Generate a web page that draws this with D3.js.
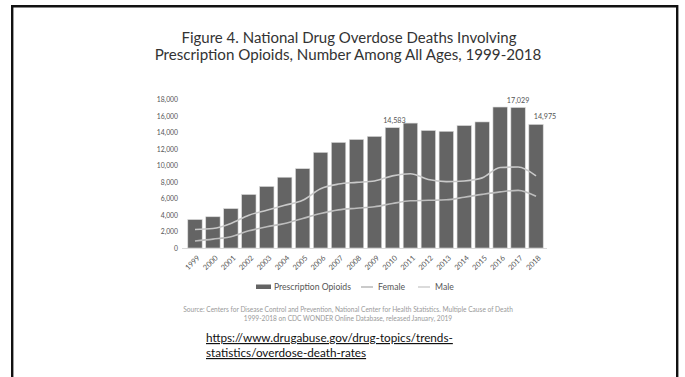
<!DOCTYPE html>
<html>
<head>
<meta charset="utf-8">
<script src="https://cdn.jsdelivr.net/npm/d3@7"></script>
<style>
  html, body { margin: 0; padding: 0; background: #fff; }
  svg { display: block; }
</style>
</head>
<body>
<svg id="chart" width="685" height="377"></svg>
<script>
// Prescription opioid overdose deaths, 1999-2018
const years = ["1999","2000","2001","2002","2003","2004","2005","2006","2007","2008",
               "2009","2010","2011","2012","2013","2014","2015","2016","2017","2018"];
const totalDeaths = [3442, 3785, 4770, 6483, 7456, 8577, 9612, 11589, 12796, 13149,
                     13523, 14583, 15140, 14240, 14145, 14838, 15281, 17087, 17029, 14975];
const femaleDeaths = [850, 1080, 1360, 2080, 2570, 2970, 3580, 4180, 4620, 4820,
                      5000, 5390, 5720, 5780, 5840, 6150, 6500, 6800, 6990, 6270];
const maleDeaths = [2250, 2370, 2980, 3980, 4580, 5180, 5780, 7190, 7750, 7950,
                    8130, 8740, 9000, 8300, 8040, 8130, 8500, 9760, 9820, 8740];
const yTicks = [0, 2000, 4000, 6000, 8000, 10000, 12000, 14000, 16000, 18000];
const labelledYears = ["2010", "2017", "2018"];

const titleLines = ["Figure 4. National Drug Overdose Deaths Involving",
                    "Prescription Opioids, Number Among All Ages, 1999-2018"];
const sourceLines = ["Source: Centers for Disease Control and Prevention, National Center for Health Statistics. Multiple Cause of Death",
                     "1999-2018 on CDC WONDER Online Database, released January, 2019"];
const linkLines = ["https://www.drugabuse.gov/drug-topics/trends-",
                   "statistics/overdose-death-rates"];

const svg = d3.select("#chart");
const font = "Lato, 'Open Sans', sans-serif";

// slide frame
svg.append("path")
  .attr("d", "M12.2,380 V6.3 H677.2 V380")
  .attr("fill", "none").attr("stroke", "#111").attr("stroke-width", 2.4);

// fit a text element to a given width by adjusting font size
function fitWidth(sel, target) {
  const fs = parseFloat(sel.attr("font-size"));
  const w = sel.node().getComputedTextLength();
  if (w > 0) sel.attr("font-size", (fs * target / w).toFixed(2));
  return parseFloat(sel.attr("font-size"));
}

// title
const t1 = svg.append("text").attr("x", 349).attr("y", 43)
  .attr("text-anchor", "middle").attr("font-family", font).attr("font-size", 15)
  .attr("fill", "#333").text(titleLines[0]);
fitWidth(t1, 335);
const t2 = svg.append("text").attr("x", 348).attr("y", 60)
  .attr("text-anchor", "middle").attr("font-family", font).attr("font-size", 15)
  .attr("fill", "#333").text(titleLines[1]);
fitWidth(t2, 387);

// scales
const x = d3.scaleBand().domain(years).range([186, 545]).paddingInner(0.2).paddingOuter(0.1);
const y = d3.scaleLinear().domain([0, 18000]).range([248, 99.5]);

// y axis labels
const yAxis = svg.append("g").attr("transform", "translate(178,0)")
  .call(d3.axisLeft(y).tickValues(yTicks).tickSize(0).tickPadding(0)
    .tickFormat(d3.format(",")));
yAxis.select(".domain").remove();
yAxis.selectAll("text").attr("font-family", font).attr("font-size", 6.8).attr("fill", "#555");

// bars
svg.append("g").selectAll("rect").data(years).join("rect")
  .attr("x", d => x(d))
  .attr("width", x.bandwidth())
  .attr("y", (d, i) => y(totalDeaths[i]))
  .attr("height", (d, i) => y(0) - y(totalDeaths[i]))
  .attr("fill", "#646464")
  .attr("stroke", "#d8d8d8").attr("stroke-width", 0.6);

// baseline
svg.append("line").attr("x1", 182).attr("x2", 547)
  .attr("y1", y(0) + 0.5).attr("y2", y(0) + 0.5)
  .attr("stroke", "#d9d9d9").attr("stroke-width", 1);

// x axis labels, rotated
const xAxis = svg.append("g").attr("transform", `translate(0,${y(0) + 2})`)
  .call(d3.axisBottom(x).tickSize(0).tickPadding(0));
xAxis.select(".domain").remove();
xAxis.selectAll("text")
  .attr("font-family", font).attr("font-size", 7.4).attr("fill", "#555")
  .attr("text-anchor", "end").attr("dy", "0.35em").attr("dx", "-0.1em")
  .attr("transform", "translate(4,6) rotate(-45)");

// sex lines
const line = d3.line()
  .x((d, i) => x(years[i]) + x.bandwidth() / 2)
  .y(d => y(d))
  .curve(d3.curveMonotoneX);
svg.append("path").datum(maleDeaths).attr("d", line)
  .attr("fill", "none").attr("stroke", "#c9c9c9").attr("stroke-width", 1.6);
svg.append("path").datum(femaleDeaths).attr("d", line)
  .attr("fill", "none").attr("stroke", "#bdbdbd").attr("stroke-width", 1.6);

// value labels
const labelShift = { "2010": 2, "2017": 0, "2018": 9 };
svg.append("g").selectAll("text").data(labelledYears).join("text")
  .attr("x", d => x(d) + x.bandwidth() / 2 + labelShift[d])
  .attr("y", d => y(totalDeaths[years.indexOf(d)]) - 5)
  .attr("text-anchor", "middle")
  .attr("font-family", font).attr("font-size", 7.2).attr("fill", "#555")
  .text(d => d3.format(",")(totalDeaths[years.indexOf(d)]));

// legend
const lg = svg.append("g").attr("font-family", font).attr("fill", "#555");
const lt1 = lg.append("text").attr("x", 274).attr("y", 290).attr("font-size", 8).text("Prescription Opioids");
const lfs = fitWidth(lt1, 77);
lg.append("rect").attr("x", 256).attr("y", 284.5).attr("width", 15).attr("height", 4.5).attr("fill", "#646464");
lg.append("line").attr("x1", 361).attr("x2", 373).attr("y1", 287).attr("y2", 287)
  .attr("stroke", "#bdbdbd").attr("stroke-width", 1.6);
lg.append("text").attr("x", 378).attr("y", 290).attr("font-size", lfs).text("Female");
lg.append("line").attr("x1", 418).attr("x2", 430).attr("y1", 287).attr("y2", 287)
  .attr("stroke", "#d2d2d2").attr("stroke-width", 1.6);
lg.append("text").attr("x", 435).attr("y", 290).attr("font-size", lfs).text("Male");

// source note
const s1 = svg.append("text").attr("x", 348).attr("y", 311.5).attr("text-anchor", "middle")
  .attr("font-family", font).attr("font-size", 5).attr("fill", "#9a9a9a").text(sourceLines[0]);
const sfs = fitWidth(s1, 330);
svg.append("text").attr("x", 348).attr("y", 320.5).attr("text-anchor", "middle")
  .attr("font-family", font).attr("font-size", sfs).attr("fill", "#9a9a9a").text(sourceLines[1]);

// link
const l1 = svg.append("text").attr("x", 206).attr("y", 342)
  .attr("font-family", font).attr("font-size", 10.5)
  .attr("fill", "#111").attr("text-decoration", "underline").text(linkLines[0]);
const lkfs = fitWidth(l1, 247);
svg.append("text").attr("x", 206).attr("y", 357)
  .attr("font-family", font).attr("font-size", lkfs)
  .attr("fill", "#111").attr("text-decoration", "underline").text(linkLines[1]);
</script>
</body>
</html>
